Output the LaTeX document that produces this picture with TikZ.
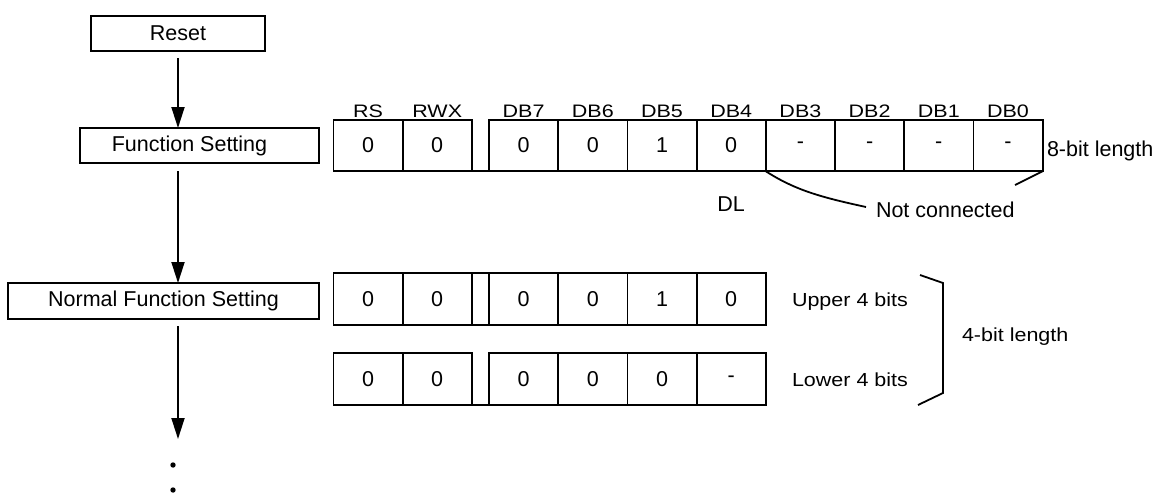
\documentclass[tikz,border=0pt]{standalone}
\usepackage{fontspec}
\setmainfont{Liberation Sans}
\usetikzlibrary{arrows.meta}
\newcommand\fsz{\fontsize{21.5}{25}\selectfont}
\begin{document}
\begin{tikzpicture}[x=1pt,y=-1pt,
  lw/.style={line width=1.8pt},
  flowbox/.style={draw,lw,inner sep=0pt,outer sep=0pt,font=\fsz},
  cell/.style={draw,lw,minimum width=69.2pt,minimum height=51.5pt,inner sep=0pt,outer sep=0pt,font=\fsz},
  arr/.style={lw,-{Triangle[length=21pt,width=13pt]}},
  lbl/.style={inner sep=0pt,outer sep=0pt,font=\fsz},
]
\useasboundingbox (0,0) rectangle (1157,493);

% flow boxes
\node[flowbox,minimum width=174pt,minimum height=35pt] (reset) at (178,33.5) {Reset};
\node[flowbox,minimum width=239pt,minimum height=35pt,
      label={[lbl,xshift=-10pt]center:Function Setting}] (fs) at (199.5,145.5) {};
\node[flowbox,minimum width=311pt,minimum height=36pt] (nfs) at (163.5,301) {Normal Function Setting};
\coordinate (arrend) at (178,439);
\draw[arr,shorten <=7pt] (reset.south) -- (reset.south |- fs.north);
\draw[arr,shorten <=8pt] (reset.south |- fs.south) -- (reset.south |- nfs.north);
\draw[arr,shorten <=7pt] (reset.south |- nfs.south) -- (arrend);
\fill (173,465) circle[radius=2.7pt];
\fill (173,490) circle[radius=2.7pt];

% row 1 (8-bit)
\foreach \x/\t [count=\i] in {368/0,437.2/0,523.6/0,592.8/0,662/1,731.2/0,800.4/-,869.6/-,938.8/-,1008/-}
  \node[cell] (a\i) at (\x,145.5) {\t};
\foreach \i/\t in {1/RS,2/RWX,3/DB7,4/DB6,5/DB5,6/DB4,7/DB3,8/DB2,9/DB1,10/DB0}
  \path (a\i.north) ++(0,-2.5) node[lbl,anchor=base] (h\i) {\scalebox{1}[0.84]{\t}};
\draw[lw] ([xshift=-9pt]a2.south east) -- ([xshift=9pt]a3.south west);

% row 2 (upper)
\foreach \x/\t [count=\i] in {368/0,437.2/0,523.6/0,592.8/0,662/1,731.2/0}
  \node[cell] (b\i) at (\x,299) {\t};
\draw[lw] ([xshift=-9pt]b2.south east) -- ([xshift=9pt]b3.south west);
\draw[lw] (b2.north east) -- (b3.north west);

% row 3 (lower)
\foreach \x/\t [count=\i] in {368/0,437.2/0,523.6/0,592.8/0,662/0,731.2/-}
  \node[cell] (c\i) at (\x,379) {\t};
\draw[lw] ([xshift=-9pt]c2.south east) -- ([xshift=9pt]c3.south west);

% side labels
\node[lbl,anchor=base west] (bit8) at (1047,156) {8-bit length};
\node[lbl,anchor=base] (dl) at (731.2,211) {DL};
\node[lbl,anchor=base west] (nc) at (876,217.3) {Not connected};
\node[lbl,anchor=base west] (up) at (792,306.7) {\scalebox{1}[0.88]{Upper 4 bits}};
\node[lbl,anchor=base west] (lo) at (792,386.7) {\scalebox{1}[0.88]{Lower 4 bits}};
\node[lbl,anchor=base west] (bit4) at (962,341.7) {\scalebox{1}[0.88]{4-bit length}};

% not connected brace
\coordinate (ncl) at (866,207);
\coordinate (ncr) at (1015,185);
\draw[lw] (a7.south west) .. controls (795,190) and (820,197) .. (ncl);
\draw[lw] (a10.south east) -- (ncr);

% 4-bit bracket
\draw[lw] (920,275) -- (943,283) -- (943,393) -- (918,405);
\end{tikzpicture}
\end{document}
